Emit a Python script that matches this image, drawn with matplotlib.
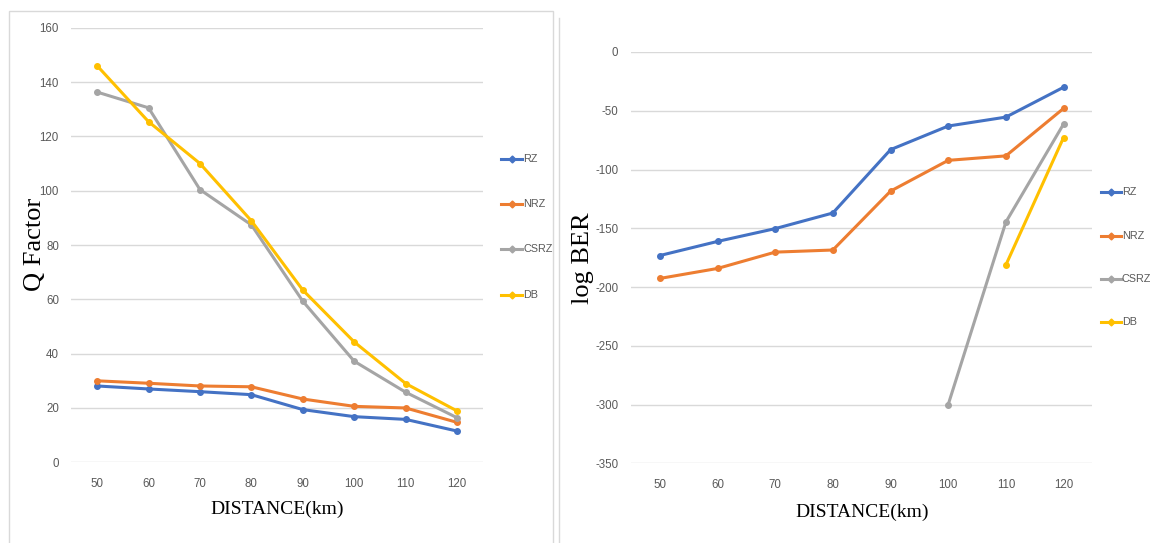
import numpy as np
import matplotlib
matplotlib.use("Agg")
import matplotlib.pyplot as plt
from matplotlib.patches import Rectangle
from matplotlib.lines import Line2D

plt.rcParams["axes.unicode_minus"] = False

distances = ["50", "60", "70", "80", "90", "100", "110", "120"]
series_names = ["RZ", "NRZ", "CSRZ", "DB"]
colors = ["#4472C4", "#ED7D31", "#A5A5A5", "#FFC000"]

q_rz = [28.1, 27.0, 26.0, 24.9, 19.4, 16.8, 15.8, 11.5]
q_nrz = [30.0, 29.1, 28.1, 27.8, 23.3, 20.6, 20.0, 14.7]
q_csrz = [136.3, 130.5, 100.4, 87.4, 59.3, 37.2, 25.8, 16.4]
q_db = [146.0, 125.4, 110.0, 88.9, 63.4, 44.3, 29.0, 18.9]

ber_rz = [-173.2, -161.2, -150.3, -137.0, -83.1, -63.0, -55.4, -30.0]
ber_nrz = [-192.7, -184.2, -170.3, -168.5, -118.4, -92.2, -88.4, -48.0]
ber_csrz = [np.nan, np.nan, np.nan, np.nan, np.nan, -300.0, -144.7, -61.3]
ber_db = [np.nan, np.nan, np.nan, np.nan, np.nan, np.nan, -181.2, -72.8]

W, H = 1150, 543
fig = plt.figure(figsize=(W / 100, H / 100), dpi=100)
fig.patch.set_facecolor("white")

tick_font = ["Liberation Sans", "DejaVu Sans"]
label_font = ["Liberation Serif", "DejaVu Serif"]


def px_axes(left, top, right, bottom):
    return fig.add_axes([left / W, 1 - bottom / H, (right - left) / W, (bottom - top) / H])


def style(ax, ylim, yticks):
    for s in ax.spines.values():
        s.set_visible(False)
    ax.set_xlim(-0.5, len(distances) - 0.5)
    ax.set_ylim(*ylim)
    ax.set_yticks(yticks)
    ax.set_xticks(range(len(distances)))
    ax.set_xticklabels(distances)
    ax.tick_params(length=0, colors="#595959", labelsize=8.3)
    ax.tick_params(axis="y", pad=9)
    ax.tick_params(axis="x", pad=11)
    for lab in ax.get_xticklabels() + ax.get_yticklabels():
        lab.set_fontfamily(tick_font)
    ax.grid(axis="y", color="#D9D9D9", linewidth=1)
    ax.set_axisbelow(True)


x = np.arange(len(distances))

# Left chart
ax1 = px_axes(71.4, 27.7, 482.8, 462.3)
style(ax1, (0, 160), range(0, 161, 20))
for vals, name, c in zip([q_rz, q_nrz, q_csrz, q_db], series_names, colors):
    ax1.plot(x, vals, color=c, linewidth=2.2, marker="o", markersize=4, label=name)

# Right chart
ax2 = px_axes(631, 52, 1092.4, 463.3)
style(ax2, (-350, 0), range(-350, 1, 50))
for vals, name, c in zip([ber_rz, ber_nrz, ber_csrz, ber_db], series_names, colors):
    ax2.plot(x, vals, color=c, linewidth=2.2, marker="o", markersize=4, label=name)


def legend(xl, ys, ln=21):
    for name, c, y in zip(series_names, colors, ys):
        fig.add_artist(Line2D([xl / W, (xl + ln) / W], [1 - y / H, 1 - y / H],
                              color=c, linewidth=2.2))
        fig.add_artist(Line2D([(xl + ln / 2) / W], [1 - y / H], color=c,
                              marker="D", markersize=3.5, linestyle="none"))
        fig.text((xl + ln + 1) / W, 1 - y / H, name, fontsize=7.8, color="#595959",
                 family=tick_font, ha="left", va="center")


legend(501, [158.6, 203.6, 248.6, 295])
legend(1101, [192, 236, 279, 322], ln=20)

# Axis labels
fig.text(35 / W, 1 - 244 / H, "Q Factor", rotation=90, fontsize=19,
         family=label_font, ha="center", va="center")
fig.text(277.5 / W, 1 - 509 / H, "DISTANCE(km)", fontsize=14,
         family=label_font, ha="center", va="center")
fig.text(583 / W, 1 - 258 / H, "log BER", rotation=90, fontsize=19,
         family=label_font, ha="center", va="center")
fig.text(862 / W, 1 - 512 / H, "DISTANCE(km)", fontsize=14,
         family=label_font, ha="center", va="center")

# Chart frames
fig.add_artist(Rectangle((9 / W, -0.05), (553 - 9) / W, (1 - 11 / H) + 0.05,
                         transform=fig.transFigure, fill=False,
                         edgecolor="#D9D9D9", linewidth=1))
fig.add_artist(Line2D([559 / W, 559 / W], [0, 1 - 18 / H], color="#D9D9D9", linewidth=1))

fig.savefig("out.png", dpi=100, facecolor="white")
